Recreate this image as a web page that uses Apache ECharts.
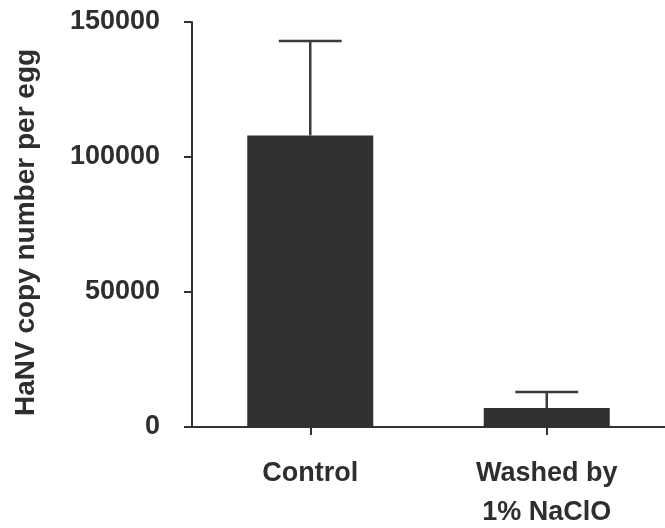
<!DOCTYPE html>
<html>
<head>
<meta charset="utf-8">
<script src="https://cdn.jsdelivr.net/npm/echarts@6/dist/echarts.min.js"></script>
<style>html,body{margin:0;padding:0;background:#fff;}#c{width:665px;height:528px;}</style>
</head>
<body>
<div id="c"></div>
<script>
const categories = ['Control', 'Washed by\n1% NaClO'];
const means = [108000, 7000];
const errUpper = [143000, 13000];
const yTicks = [0, 50000, 100000, 150000];

const chart = echarts.init(document.getElementById('c'));
const font = 'Liberation Sans, Arial, sans-serif';
const txt = '#2e2e2e';
chart.setOption({
  animation: false,
  grid: { left: 192, right: 0, top: 22, bottom: 101, containLabel: false, outerBoundsMode: 'none' },
  xAxis: {
    type: 'category',
    data: categories,
    axisLine: { lineStyle: { color: '#333', width: 2 } },
    axisTick: { show: true, alignWithLabel: true, length: 8, lineStyle: { color: '#333', width: 2 } },
    axisLabel: { color: txt, fontFamily: font, fontWeight: 'bold', fontSize: 27, margin: 27, lineHeight: 39 }
  },
  yAxis: {
    type: 'value',
    min: yTicks[0],
    max: yTicks[yTicks.length - 1],
    interval: yTicks[1] - yTicks[0],
    name: 'HaNV copy number per egg',
    nameLocation: 'middle',
    nameGap: 152,
    nameTextStyle: { color: txt, fontFamily: font, fontWeight: 'bold', fontSize: 28, padding: [0, 16, 0, 0] },
    splitLine: { show: false },
    axisLine: { show: true, lineStyle: { color: '#333', width: 2 } },
    axisTick: { show: true, length: 8, lineStyle: { color: '#333', width: 2 } },
    axisLabel: { color: txt, fontFamily: font, fontWeight: 'bold', fontSize: 27, margin: 32, formatter: v => String(v) }
  },
  series: [
    {
      type: 'bar',
      data: means,
      barWidth: 126,
      itemStyle: { color: '#303030' }
    },
    {
      type: 'custom',
      data: categories.map((c, i) => [i, means[i], errUpper[i]]),
      renderItem: function (params, api) {
        const x = api.value(0);
        const lo = api.coord([x, api.value(1)]);
        const hi = api.coord([x, api.value(2)]);
        const half = api.size([1, 0])[0] * 0.133;
        const style = { stroke: '#3a3a3a', lineWidth: 2.5 };
        return {
          type: 'group',
          children: [
            { type: 'line', shape: { x1: lo[0], y1: lo[1], x2: hi[0], y2: hi[1] }, style: style },
            { type: 'line', shape: { x1: hi[0] - half, y1: hi[1], x2: hi[0] + half, y2: hi[1] }, style: style }
          ]
        };
      },
      z: 3
    }
  ]
});
</script>
</body>
</html>
